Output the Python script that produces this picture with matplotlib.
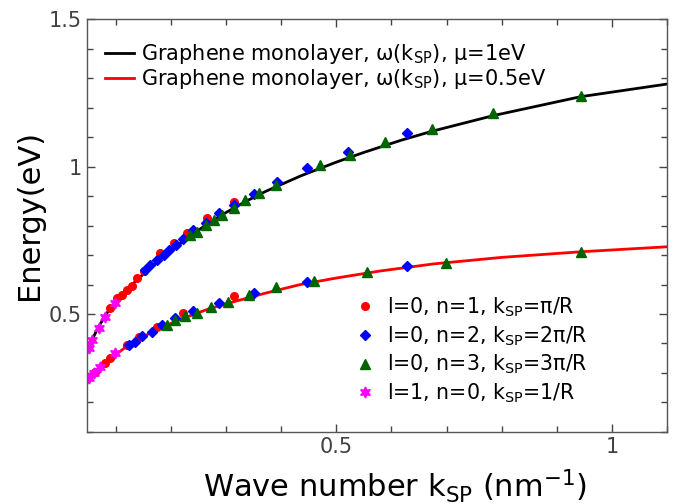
import matplotlib
matplotlib.use('Agg')

import matplotlib.pyplot as plt
from matplotlib.ticker import MultipleLocator

# continuous curves
mu1_k = [0.048, 0.058, 0.069, 0.085, 0.105, 0.13, 0.154, 0.19, 0.226, 0.26, 0.299,
         0.335, 0.371, 0.435, 0.5, 0.55, 0.617, 0.674, 0.785, 0.943, 1.1]
mu1_e = [0.368, 0.415, 0.457, 0.505, 0.552, 0.600, 0.642, 0.700, 0.752, 0.797, 0.843,
         0.881, 0.915, 0.968, 1.015, 1.048, 1.089, 1.120, 1.173, 1.237, 1.28]

mu05_k = [0.048, 0.06, 0.081, 0.1, 0.12, 0.15, 0.18, 0.226, 0.27, 0.317, 0.37,
          0.435, 0.5, 0.58, 0.677, 0.8, 0.943, 1.1]
mu05_e = [0.265, 0.292, 0.333, 0.362, 0.39, 0.423, 0.452, 0.488, 0.518, 0.543, 0.57,
          0.6, 0.622, 0.646, 0.67, 0.692, 0.711, 0.728]

# l=0, n=1 (red circles)
n1_k = [0.090, 0.102, 0.111, 0.1205, 0.1296, 0.1387, 0.1507, 0.181, 0.205, 0.229, 0.266, 0.314,
        0.063, 0.081, 0.090, 0.1205, 0.1416, 0.175, 0.223, 0.314]
n1_e = [0.519, 0.553, 0.564, 0.581, 0.595, 0.621, 0.647, 0.706, 0.740, 0.776, 0.826, 0.881,
        0.304, 0.333, 0.350, 0.395, 0.423, 0.457, 0.502, 0.561]

# l=0, n=2 (blue diamonds)
n2_k = [0.154, 0.163, 0.175, 0.187, 0.196, 0.209, 0.223, 0.241, 0.263, 0.287, 0.314, 0.350,
        0.393, 0.447, 0.522, 0.628,
        0.1235, 0.1356, 0.1478, 0.166, 0.184, 0.208, 0.241, 0.287, 0.350, 0.447, 0.628]
n2_e = [0.649, 0.666, 0.683, 0.700, 0.717, 0.734, 0.753, 0.785, 0.810, 0.841, 0.869, 0.907,
        0.949, 0.995, 1.049, 1.113,
        0.395, 0.406, 0.425, 0.440, 0.463, 0.485, 0.510, 0.536, 0.572, 0.610, 0.664]

# l=0, n=3 (green triangles)
n3_k = [0.235, 0.248, 0.263, 0.278, 0.293, 0.314, 0.335, 0.359, 0.390, 0.471, 0.524, 0.589,
        0.674, 0.785, 0.943,
        0.193, 0.208, 0.226, 0.248, 0.273, 0.304, 0.342, 0.390, 0.459, 0.556, 0.698, 0.943]
n3_e = [0.768, 0.779, 0.802, 0.819, 0.836, 0.858, 0.886, 0.909, 0.937, 1.005, 1.040, 1.082,
        1.129, 1.182, 1.239,
        0.463, 0.480, 0.493, 0.504, 0.525, 0.542, 0.564, 0.590, 0.613, 0.642, 0.674, 0.711]

# l=1, n=0 (magenta stars)
l1_k = [0.052, 0.057, 0.069, 0.081, 0.099,
        0.051, 0.060, 0.072, 0.099]
l1_e = [0.384, 0.412, 0.451, 0.491, 0.536,
        0.282, 0.299, 0.321, 0.367]

x_ticks = [0.5, 1]
x_labels = ['0.5', '1']
y_ticks = [0.5, 1, 1.5]
y_labels = ['0.5', '1', '1.5']

SP = r'$\mathregular{_{SP}}$'

fig = plt.figure(figsize=(6.74, 5.04), dpi=100)
ax = fig.add_axes([0.129, 0.143, 0.861, 0.819])

l_mu1, = ax.plot(mu1_k, mu1_e, color='black', lw=2,
                 label='Graphene monolayer, ω(k' + SP + '), μ=1eV')
l_mu05, = ax.plot(mu05_k, mu05_e, color='red', lw=2,
                  label='Graphene monolayer, ω(k' + SP + '), μ=0.5eV')

star = (6, 1, 0)
p1, = ax.plot(n1_k, n1_e, 'o', color='red', ms=5.5, ls='none',
              label='l=0, n=1, k' + SP + '=π/R')
p2, = ax.plot(n2_k, n2_e, 'D', color='blue', ms=5, ls='none',
              label='l=0, n=2, k' + SP + '=2π/R')
p3, = ax.plot(n3_k, n3_e, '^', color='#006400', ms=7, ls='none',
              label='l=0, n=3, k' + SP + '=3π/R')
p4, = ax.plot(l1_k, l1_e, marker=star, color='magenta', ms=8, ls='none',
              label='l=1, n=0, k' + SP + '=1/R')

ax.set_xlim(0.048, 1.1)
ax.set_ylim(0.1, 1.5)
ax.set_xticks(x_ticks)
ax.set_xticklabels(x_labels)
ax.set_yticks(y_ticks)
ax.set_yticklabels(y_labels)
ax.xaxis.set_minor_locator(MultipleLocator(0.1))
ax.yaxis.set_minor_locator(MultipleLocator(0.1))
ax.tick_params(which='both', direction='in', top=True, right=True,
               colors='#444444', labelcolor='#404040', labelsize=15, width=1)
ax.tick_params(which='major', length=6)
ax.tick_params(which='minor', length=4)
for s in ax.spines.values():
    s.set_color('#555555')
    s.set_linewidth(1)

ax.set_xlabel('Wave number k' + SP + ' (nm$^{\\mathregular{-1}}$)', fontsize=22)
ax.xaxis.set_label_coords(0.531, -0.085)
ax.set_ylabel('Energy(eV)', fontsize=22)
ax.yaxis.set_label_coords(-0.074, 0.525)

leg1 = ax.legend(handles=[l_mu1, l_mu05], loc='upper left', bbox_to_anchor=(-0.002, 0.99),
                 frameon=False, fontsize=15, handlelength=1.4, handletextpad=0.35,
                 labelspacing=0.05)
ax.add_artist(leg1)
ax.legend(handles=[p1, p2, p3, p4], loc='lower right', bbox_to_anchor=(0.895, 0.02),
          frameon=False, fontsize=14.8, handlelength=1, handletextpad=0.6,
          labelspacing=0.25)

fig.savefig('out.png', dpi=100)
